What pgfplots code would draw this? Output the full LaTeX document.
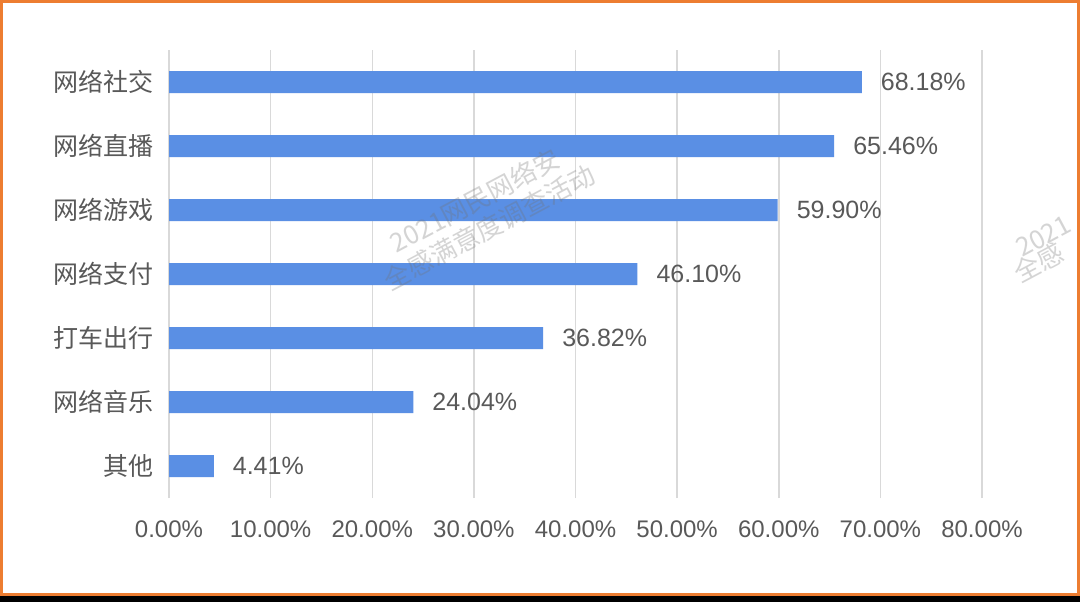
\documentclass[border=0pt]{standalone}
\usepackage{pgfplots}
\pgfplotsset{compat=1.18}
\usepackage{fontspec}
\setmainfont{Liberation Sans}
\newfontfamily\cjk{Noto Sans CJK SC}
\definecolor{barblue}{RGB}{90,143,228}
\definecolor{txtgray}{RGB}{89,89,89}
\definecolor{gridgray}{RGB}{217,217,217}
\definecolor{frameorange}{RGB}{237,125,49}
\begin{document}
\begin{tikzpicture}[x=1pt,y=1pt]
\fill[black] (0,0) rectangle (540,301);
\fill[frameorange] (0,3) rectangle (540,301);
\fill[white] (1.5,4.5) rectangle (538.5,299.5);
\begin{axis}[
  at={(84.5pt,52pt)}, anchor=south west,
  scale only axis, width=406.5pt, height=224pt,
  xbar, bar width=11pt, bar shift=0pt,
  xmin=0, xmax=80, ymin=-0.5, ymax=6.5,
  xtick={0,10,...,80},
  ytick={0,...,6},
  yticklabels={其他,网络音乐,打车出行,网络支付,网络游戏,网络直播,网络社交},
  yticklabel style={font=\cjk\fontsize{12.5}{14}\selectfont, text=txtgray, xshift=-4pt},
  xticklabel={\pgfmathprintnumber[fixed,zerofill,precision=2]{\tick}\%},
  xticklabel style={font=\fontsize{12}{14}\selectfont, text=txtgray, yshift=-8pt},
  /pgf/number format/assume math mode=true,
  axis line style={draw=none},
  major tick length=0pt,
  xmajorgrids, major grid style={gridgray, line width=0.75pt},
  nodes near coords={\pgfmathprintnumber[fixed,zerofill,precision=2]{\pgfplotspointmeta}\%},
  point meta=x,
  every node near coord/.append style={font=\fontsize{12.5}{14}\selectfont, text=txtgray, anchor=west, xshift=6pt},
  clip=false,
]
\addplot[fill=barblue, draw=none] coordinates {
(4.41,0) (24.04,1) (36.82,2) (46.10,3) (59.90,4) (65.46,5) (68.18,6)
};
\end{axis}
\begin{scope}
\clip (1.5,4.5) rectangle (538.5,299.5);
\node[rotate=28,text=black!55,text opacity=0.3,font=\cjk\fontsize{13}{15}\selectfont,align=center] at (241,194) {2021网民网络安\\全感满意度调查活动};
\node[rotate=28,text=black!55,text opacity=0.3,font=\cjk\fontsize{13}{15}\selectfont,anchor=base west,inner sep=0pt] at (511,172) {2021};
\node[rotate=28,text=black!55,text opacity=0.3,font=\cjk\fontsize{13}{15}\selectfont,anchor=base west,inner sep=0pt] at (510,159) {全感};
\end{scope}
\end{tikzpicture}
\end{document}
